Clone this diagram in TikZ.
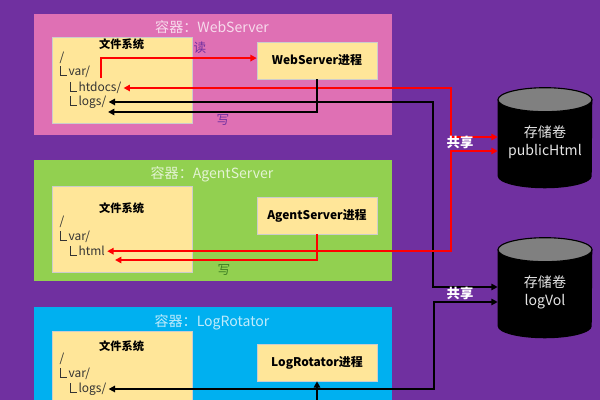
\documentclass[tikz,border=0pt]{standalone}
\usepackage{fontspec}
\setmainfont{Noto Sans CJK SC}
\usetikzlibrary{arrows.meta,positioning,calc}

\definecolor{bgpurple}{RGB}{112,48,160}
\definecolor{webpink}{RGB}{223,112,180}
\definecolor{agentgreen}{RGB}{146,208,80}
\definecolor{logcyan}{RGB}{0,176,240}
\definecolor{paleyellow}{RGB}{255,230,153}
\definecolor{writegreen}{RGB}{60,125,35}

% small L-shaped tree mark
\newcommand{\treecorner}{\rule{0.45pt}{1.5ex}\rule{0.55em}{0.45pt}\hspace{0.15em}}

% black cylinder behind a named volume node
\newcommand{\drawvolume}[1]{%
  \fill[black] ([yshift=-0.3cm]#1.north west) -- ([yshift=0.3cm]#1.south west)
    arc[start angle=180, end angle=360, x radius=1.175cm, y radius=0.3cm]
    -- ([yshift=-0.3cm]#1.north east)
    arc[start angle=0, end angle=180, x radius=1.175cm, y radius=0.3cm] -- cycle;
  \draw[black, fill=black!50, line width=0.8pt]
    ([yshift=-0.3cm]#1.north) ellipse[x radius=1.175cm, y radius=0.3cm];}

\begin{document}
\begin{tikzpicture}[
    >={Triangle[length=1.6mm,width=1.6mm]},
    container/.style={
        anchor=north west,
        minimum width=8.95cm,
        inner sep=0
    },
    fsbox/.style={
        draw=black!20,
        fill=paleyellow,
        anchor=north west,
        minimum width=3.5cm,
        inner sep=0
    },
    procbox/.style={
        draw=black!20,
        fill=paleyellow,
        minimum width=3cm,
        minimum height=0.925cm,
        font=\bfseries\fontsize{8.5}{10}\selectfont
    },
    ctitle/.style={text=white, text opacity=0.75, font=\fontsize{10}{12}\selectfont},
    fstitle/.style={font=\bfseries\fontsize{8}{10}\selectfont},
    treeline/.style={anchor=west, inner sep=1.5pt, text=black!80, font=\fontsize{8.5}{10}\selectfont},
    redline/.style={draw=red, line width=1.4pt},
    blackline/.style={draw=black, line width=1.3pt},
    sharetext/.style={text=white, font=\bfseries\fontsize{9.5}{11}\selectfont},
    voltext/.style={align=center, text=black!10, font=\fontsize{10}{13}\selectfont},
    volume/.style={minimum width=2.35cm, minimum height=2.5cm, inner sep=0}
]

\useasboundingbox (0,0) rectangle (15,10);
\clip (0,0) rectangle (15,10);
\fill[bgpurple] (0,0) rectangle (15,10);

% --- CONTAINERS ---
\node[container, fill=webpink, minimum height=3.025cm] (web) at (0.85,9.65) {};
\node[container, fill=agentgreen, minimum height=3.025cm] (agent) at (0.85,6.0) {};
\node[container, fill=logcyan, minimum height=3.4cm] (log) at (0.85,2.325) {};

\node[ctitle] (webtitle) at (5.3,9.325) {容器：WebServer};
\node[ctitle] (agenttitle) at (5.3,5.65) {容器：AgentServer};
\node[ctitle] (logtitle) at (5.3,1.95) {容器：LogRotator};

% --- FILE SYSTEMS ---
\node[fsbox, minimum height=2.15cm] (webfs) at (1.3,9.075) {};
\node[fstitle] at (3.04,8.9) {文件系统};
\node[treeline] (webroot) at (1.43,8.55) {/};
\node[treeline] (webvar) at (1.43,8.2) {\treecorner var/};
\node[treeline] (webhtdocs) at (1.68,7.8) {\treecorner htdocs/};
\node[treeline] (weblogs) at (1.68,7.45) {\treecorner logs/};

\node[fsbox, minimum height=2.15cm] (agentfs) at (1.3,5.35) {};
\node[fstitle] at (3.04,4.8) {文件系统};
\node[treeline] (agentroot) at (1.43,4.45) {/};
\node[treeline] (agentvar) at (1.43,4.075) {\treecorner var/};
\node[treeline] (agenthtml) at (1.68,3.72) {\treecorner html};

\node[fsbox, minimum height=2.5cm] (logfs) at (1.3,1.725) {};
\node[fstitle] at (3.04,1.35) {文件系统};
\node[treeline] (logroot) at (1.43,1.025) {/};
\node[treeline] (logvar) at (1.43,0.65) {\treecorner var/};
\node[treeline] (loglogs) at (1.68,0.275) {\treecorner logs/};

% --- PROCESSES ---
\node[procbox] (webproc) at (7.925,8.4875) {WebServer进程};
\node[procbox] (agentproc) at (7.925,4.6125) {AgentServer进程};
\node[procbox] (logproc) at (7.925,0.9375) {LogRotator进程};

% --- VOLUMES ---
\node[volume] (pubvol) at (13.625,6.55) {};
\node[volume] (logvol) at (13.625,2.8) {};
\drawvolume{pubvol}
\drawvolume{logvol}
\node[voltext] (publabel) at ([yshift=-0.1cm]pubvol.center) {存储卷\\publicHtml};
\node[voltext] (loglabel) at ([yshift=-0.1cm]logvol.center) {存储卷\\logVol};

% --- CONNECTIONS ---
\coordinate (redbus) at (11.275,0);
\coordinate (webbus) at (10.825,0);
\coordinate (logbus) at (10.85,0);
\coordinate (webread) at (2.525,8.05);
\coordinate (webwrite) at (2.7,7.2);
\coordinate (agentwrite) at (2.875,3.5);
\coordinate (logfeed) at (7.925,-0.1);

% shared log volume
\draw[blackline, <->] (weblogs.east) -- (weblogs.east -| webbus) |- ([yshift=0.025cm]logvol.west);
\draw[blackline, <->] (loglogs.east) -- (loglogs.east -| logbus) |- ([yshift=-0.35cm]logvol.west);

% shared html volume
\draw[redline, <->] (webhtdocs.east) -- (webhtdocs.east -| redbus) |- ([yshift=0.025cm]pubvol.west);
\draw[redline, <->] (agenthtml.east) -- (agenthtml.east -| redbus) |- ([yshift=-0.325cm]pubvol.west);

% read / write inside containers
\draw[redline, ->] (webread) |- ([yshift=0.06cm]webproc.west);
\draw[blackline, ->] (webproc.south) |- (webwrite);
\draw[redline, ->] (agentproc.south) |- (agentwrite);
\draw[blackline, ->] (logfeed) -- (logproc.south);

% --- LABELS ---
\node[text=bgpurple, font=\fontsize{9}{11}\selectfont] (readlabel) at (5.0,8.8) {读};
\node[text=bgpurple, font=\fontsize{9}{11}\selectfont] (webwritelabel) at (5.575,7.0) {写};
\node[text=writegreen, font=\fontsize{9}{11}\selectfont] (agentwritelabel) at (5.6,3.25) {写};
\node[sharetext] (pubshare) at (11.5,6.45) {共享};
\node[sharetext] (logshare) at (11.5,2.675) {共享};

\end{tikzpicture}
\end{document}
